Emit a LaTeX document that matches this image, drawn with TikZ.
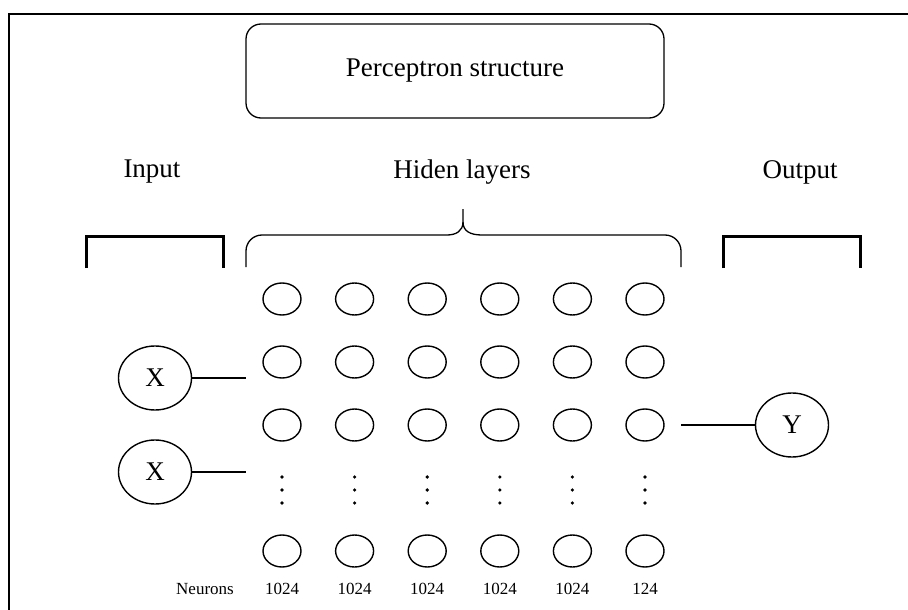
\documentclass[tikz,border=0pt]{standalone}
\usepackage{fontspec}
\setmainfont{Liberation Serif}
\usetikzlibrary{shapes.geometric,positioning}

\begin{document}
\begin{tikzpicture}[x=1pt,y=-1pt,line width=1.3pt,
  bigfont/.style={font=\fontsize{27}{30}\selectfont},
  smallfont/.style={font=\fontsize{17}{19}\selectfont},
  titlebox/.style={draw,rounded corners=15pt,minimum width=418pt,minimum height=94pt,bigfont},
  neuron/.style={ellipse,draw,line width=1.4pt,minimum width=38pt,minimum height=32pt,inner sep=0pt},
  bignode/.style={ellipse,draw,line width=1.4pt,minimum width=73pt,minimum height=64pt,inner sep=0pt,bigfont},
  bracket/.style={line width=3pt}]
  \useasboundingbox (0,0) rectangle (908,610);

  % frame
  \draw [line width=1.6pt] (9,610) -- (9,14) -- (908,14);

  \node [titlebox] (title) at (455,71) {Perceptron structure};

  \node [bigfont] (input_lbl) at (152,172) {Input};
  \node [bigfont] (hidden_lbl) at (462,172) {Hiden layers};
  \node [bigfont] (output_lbl) at (800,172) {Output};

  % brackets
  \draw [bracket] (86,268) -- (86,236) -- (223,236) -- (223,268);
  \draw [bracket] (723,268) -- (723,236) -- (860,236) -- (860,268);

  % brace over the hidden layers
  \draw (246,267) -- (246,251) to[out=90,in=180] (262,235) -- (447,235)
        .. controls (456,235) and (463,231) .. (463,222) -- (463,209);
  \draw (681,267) -- (681,251) to[out=90,in=0] (665,235) -- (482,235)
        .. controls (470,235) and (463,231) .. (463,222);

  % neurons
  \foreach \c/\num in {0/1024,1/1024,2/1024,3/1024,4/1024,5/124} {
    \foreach \r/\y in {1/299,2/362,3/425,4/551}
      \node [neuron] (n\r_\c) at (282+72.6*\c,\y) {};
    \foreach \d in {477,490,503}
      \fill (282+72.6*\c,\d) circle (1.8pt);
    \node [smallfont] (num_\c) at (282+72.6*\c,589) {\num};
  }
  \node [smallfont] (neurons_lbl) at (205,589) {Neurons};

  \node [bignode] (x1) at (155,378) {X};
  \node [bignode] (x2) at (155,472) {X};
  \node [bignode] (y) at (792,425) {Y};

  \coordinate (x1_end) at (246,378);
  \coordinate (x2_end) at (246,472);
  \coordinate (y_start) at (681,425);
  \draw (x1) -- (x1_end);
  \draw (x2) -- (x2_end);
  \draw (y_start) -- (y);
\end{tikzpicture}
\end{document}
